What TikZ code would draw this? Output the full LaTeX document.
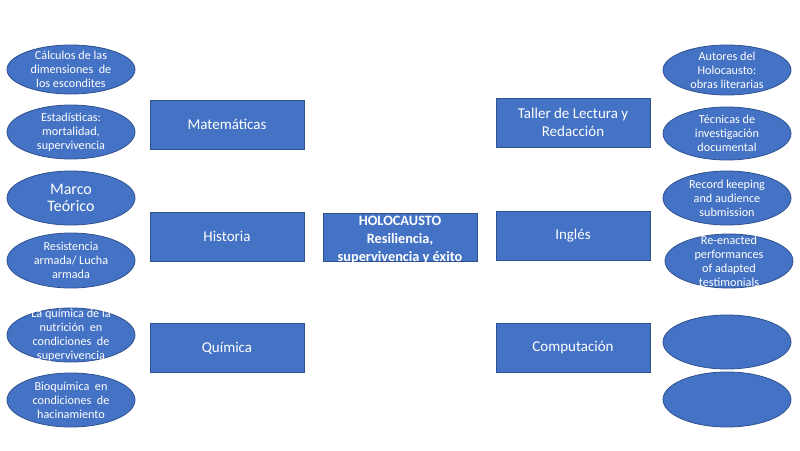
\documentclass[tikz,border=0pt]{standalone}
\usepackage{fontspec}
\setmainfont{Carlito}
\usetikzlibrary{shapes.geometric}
\definecolor{fillb}{HTML}{4472C4}
\definecolor{lineb}{HTML}{2F528F}
\tikzset{
  ell/.style={ellipse, draw=lineb, fill=fillb, line width=0.8pt, inner sep=0pt,
    minimum width=128pt, minimum height=#1},
  ell/.default=54pt,
  etext/.style={text=white, align=center, inner sep=0pt, font=\fontsize{12.2}{14}\selectfont},
  subj/.style={rectangle, draw=lineb, fill=fillb, line width=0.8pt, inner sep=0pt,
    minimum width=154pt, minimum height=49pt, text=white, align=center,
    font=\fontsize{15}{17.8}\selectfont},
}
\begin{document}
\begin{tikzpicture}[x=1pt,y=-1pt]
\useasboundingbox (0,0) rectangle (800,450);
% left ellipses
\node[ell=49pt, label={[etext]center:Cálculos de las\\dimensiones\ \ de\\los escondites}] (l1) at (71,69.5) {};
\node[ell, label={[etext]center:Estadísticas:\\mortalidad,\\supervivencia}] (l2) at (71,132) {};
\node[ell, label={[etext, font=\fontsize{16}{17.5}\selectfont]center:Marco\\Teórico}] (l3) at (71,198) {};
\node[ell=55pt, label={[etext]center:Resistencia\\armada/ Lucha\\armada}] (l4) at (71,260.5) {};
\node[ell, label={[etext]center:La química de la\\nutrición\ \ en\\condiciones\ \ de\\supervivencia}] (l5) at (71,335) {};
\node[ell, label={[etext]center:Bioquímica\ \ en\\condiciones\ \ de\\hacinamiento}] (l6) at (71,400) {};
% left boxes
\node[subj] (mat) at (227,124.5) {Matemáticas};
\node[subj] (his) at (227,236.5) {Historia};
\node[subj] (qui) at (227,348) {Química};
% center
\node[subj, minimum height=48pt] (hol) at (400,237) {};
\node[text=white, align=center, inner sep=0pt, font=\bfseries\fontsize{14.3}{18}\selectfont] (holt) at (400,239.5) {HOLOCAUSTO\\Resiliencia,\\supervivencia y éxito};
% right boxes
\node[subj] (tal) at (573,122.5) {Taller de Lectura y\\Redacción};
\node[subj] (ing) at (573,236) {Inglés};
\node[subj] (com) at (573,348) {Computación};
% right ellipses
\node[ell=50pt, label={[etext]center:Autores del\\Holocausto:\\obras literarias}] (r1) at (727,70) {};
\node[ell=53pt, label={[etext]center:Técnicas de\\investigación\\documental}] (r2) at (727,133.5) {};
\node[ell, label={[etext]center:Record keeping\\and audience\\submission}] (r3) at (727,198) {};
\node[ell, label={[etext]center:Re-enacted\\performances\\of adapted\\testimonials}] (r4) at (729,261) {};
\node[ell] (r5) at (727,342) {};
\node[ell=55pt] (r6) at (727,399.5) {};
\end{tikzpicture}
\end{document}
